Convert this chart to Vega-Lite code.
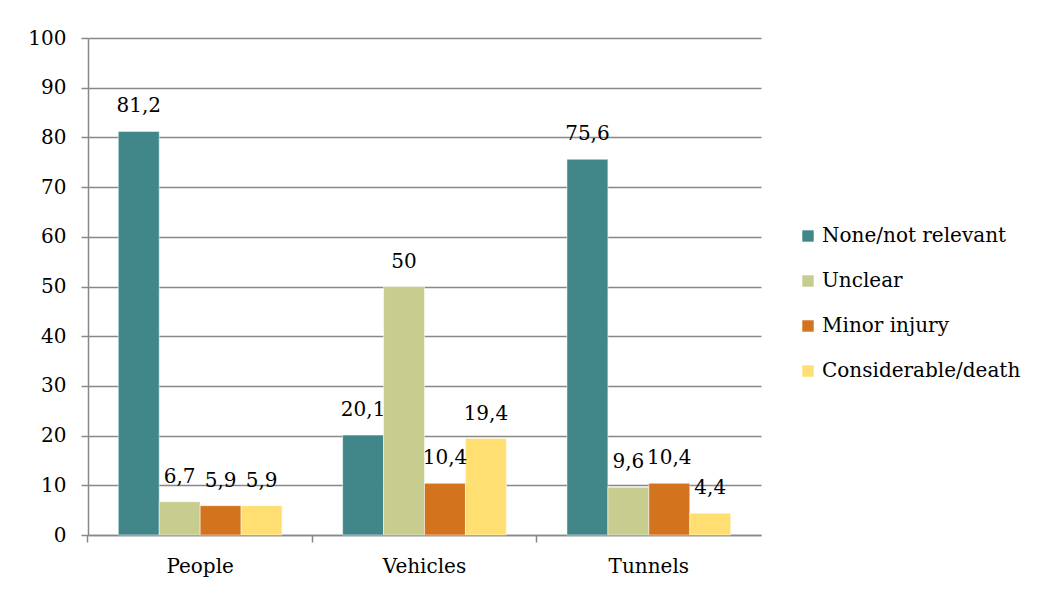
{
  "$schema": "https://vega.github.io/schema/vega-lite/v6.json",
  "width": 673,
  "height": 497,
  "autosize": {"type": "none"},
  "padding": {"left": 88, "top": 38, "right": 280, "bottom": 55},
  "background": "white",
  "config": {
    "font": "DejaVu Serif",
    "view": {"stroke": null}
  },
  "data": {
    "values": [
      {"category": "People", "severity": "None/not relevant", "value": 81.2, "label": "81,2"},
      {"category": "People", "severity": "Unclear", "value": 6.7, "label": "6,7"},
      {"category": "People", "severity": "Minor injury", "value": 5.9, "label": "5,9"},
      {"category": "People", "severity": "Considerable/death", "value": 5.9, "label": "5,9"},
      {"category": "Vehicles", "severity": "None/not relevant", "value": 20.1, "label": "20,1"},
      {"category": "Vehicles", "severity": "Unclear", "value": 50, "label": "50"},
      {"category": "Vehicles", "severity": "Minor injury", "value": 10.4, "label": "10,4"},
      {"category": "Vehicles", "severity": "Considerable/death", "value": 19.4, "label": "19,4"},
      {"category": "Tunnels", "severity": "None/not relevant", "value": 75.6, "label": "75,6"},
      {"category": "Tunnels", "severity": "Unclear", "value": 9.6, "label": "9,6"},
      {"category": "Tunnels", "severity": "Minor injury", "value": 10.4, "label": "10,4"},
      {"category": "Tunnels", "severity": "Considerable/death", "value": 4.4, "label": "4,4"}
    ]
  },
  "encoding": {
    "x": {
      "field": "category",
      "type": "nominal",
      "sort": ["People", "Vehicles", "Tunnels"],
      "scale": {"paddingInner": 0.27, "paddingOuter": 0.135},
      "axis": {
        "title": null,
        "labelAngle": 0,
        "labelFont": "DejaVu Serif",
        "labelFontSize": 20,
        "labelColor": "#000000",
        "labelPadding": 14,
        "bandPosition": -0.185,
        "tickSize": 7,
        "tickColor": "#888888",
        "domainColor": "#888888",
        "domainWidth": 1.5,
        "tickWidth": 1.5
      }
    },
    "xOffset": {
      "field": "severity",
      "type": "nominal",
      "sort": ["None/not relevant", "Unclear", "Minor injury", "Considerable/death"]
    },
    "y": {
      "field": "value",
      "type": "quantitative",
      "scale": {"domain": [0, 100]},
      "axis": {
        "title": null,
        "values": [0, 10, 20, 30, 40, 50, 60, 70, 80, 90, 100],
        "labelFont": "DejaVu Serif",
        "labelFontSize": 20,
        "labelColor": "#000000",
        "labelPadding": 15,
        "tickSize": 7,
        "tickColor": "#888888",
        "tickWidth": 1.5,
        "domainColor": "#888888",
        "domainWidth": 1.5,
        "grid": true,
        "gridColor": "#888888",
        "gridWidth": 1.5
      }
    }
  },
  "layer": [
    {
      "mark": {"type": "bar", "stroke": "white", "strokeWidth": 0.5},
      "encoding": {
        "color": {
          "field": "severity",
          "type": "nominal",
          "sort": ["None/not relevant", "Unclear", "Minor injury", "Considerable/death"],
          "scale": {
            "domain": ["None/not relevant", "Unclear", "Minor injury", "Considerable/death"],
            "range": ["#41878A", "#C6CD8F", "#D4731E", "#FFDF72"]
          },
          "legend": {
            "title": null,
            "orient": "none",
            "legendX": 710,
            "legendY": 188,
            "symbolType": "square",
            "symbolSize": 130,
            "symbolStrokeWidth": 0,
            "labelFont": "DejaVu Serif",
            "labelFontSize": 20,
            "labelColor": "#000000",
            "labelLimit": 300,
            "labelOffset": 4,
            "rowPadding": 25
          }
        }
      }
    },
    {
      "mark": {"type": "text", "font": "DejaVu Serif", "fontSize": 20, "dy": -19, "baseline": "alphabetic", "color": "#000000"},
      "encoding": {
        "text": {"field": "label", "type": "nominal"}
      }
    }
  ]
}
